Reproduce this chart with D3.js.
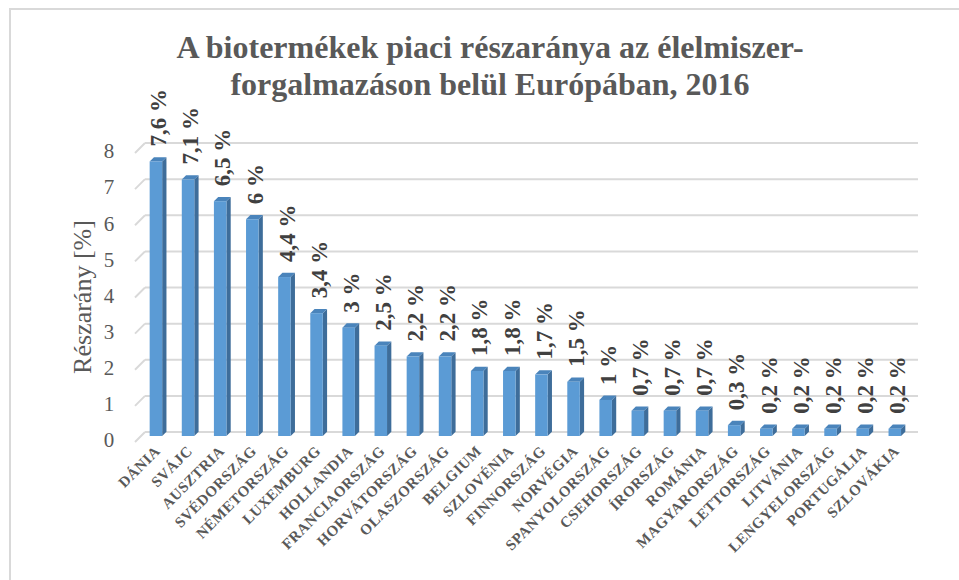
<!DOCTYPE html>
<html>
<head>
<meta charset="utf-8">
<script src="https://cdn.jsdelivr.net/npm/d3@7"></script>
<style>
  body { margin: 0; background: #fff; }
</style>
</head>
<body>
<script>
// chart data
var countries = ["DÁNIA", "SVÁJC", "AUSZTRIA", "SVÉDORSZÁG", "NÉMETORSZÁG", "LUXEMBURG",
  "HOLLANDIA", "FRANCIAORSZÁG", "HORVÁTORSZÁG", "OLASZORSZÁG", "BELGIUM", "SZLOVÉNIA",
  "FINNORSZÁG", "NORVÉGIA", "SPANYOLORSZÁG", "CSEHORSZÁG", "ÍRORSZÁG", "ROMÁNIA",
  "MAGYARORSZÁG", "LETTORSZÁG", "LITVÁNIA", "LENGYELORSZÁG", "PORTUGÁLIA", "SZLOVÁKIA"];
var shares = [7.6, 7.1, 6.5, 6, 4.4, 3.4, 3, 2.5, 2.2, 2.2, 1.8, 1.8, 1.7, 1.5, 1,
  0.7, 0.7, 0.7, 0.3, 0.2, 0.2, 0.2, 0.2, 0.2];
var yTicks = [0, 1, 2, 3, 4, 5, 6, 7, 8];
var titleLines = ["A biotermékek piaci részaránya az élelmiszer-",
  "forgalmazáson belül Európában, 2016"];
var yTitle = "Részarány [%]";

var width = 959, height = 580;
var serif = "'Liberation Serif', 'DejaVu Serif', serif";

var svg = d3.select("body").append("svg")
    .attr("width", width)
    .attr("height", height)
    .attr("font-family", serif);

// outer frame (only top and left edges fall inside the picture)
svg.append("rect")
    .attr("x", 10).attr("y", 9)
    .attr("width", 1000).attr("height", 1000)
    .attr("fill", "none")
    .attr("stroke", "#d9d9d9")
    .attr("stroke-width", 2);

// scales
var x = d3.scaleBand().domain(countries).range([142, 913]).padding(0);
var y = d3.scaleLinear().domain([0, 8]).range([432, 143]); // back wall
var depth = 4.3, barW = 12.5, shift = 4; // 3d offsets

// gridlines + little floor stubs
svg.append("g").selectAll("line.grid")
    .data(yTicks).enter().append("line")
    .attr("x1", 145).attr("x2", 918)
    .attr("y1", function(d) { return y(d); })
    .attr("y2", function(d) { return y(d); })
    .attr("stroke", "#d9d9d9").attr("stroke-width", 2);
svg.append("g").selectAll("line.stub")
    .data(yTicks).enter().append("line")
    .attr("x1", 135).attr("x2", 145)
    .attr("y1", function(d) { return y(d) + 10; })
    .attr("y2", function(d) { return y(d); })
    .attr("stroke", "#d9d9d9").attr("stroke-width", 2);

// y tick labels
svg.append("g").selectAll("text")
    .data(yTicks).enter().append("text")
    .attr("x", 109)
    .attr("y", function(d) { return y(d) + 8; })
    .attr("dy", "0.35em")
    .attr("text-anchor", "middle")
    .style("font-size", "21px")
    .style("fill", "#595959")
    .text(function(d) { return d; });

// y title
svg.append("text")
    .attr("transform", "translate(82,297) rotate(-90)")
    .attr("dy", "0.35em")
    .attr("text-anchor", "middle")
    .style("font-size", "26px")
    .style("fill", "#595959")
    .text(yTitle);

// title
svg.append("g").selectAll("text")
    .data(titleLines).enter().append("text")
    .attr("x", 490)
    .attr("y", function(d, i) { return 58 + i * 37; })
    .attr("text-anchor", "middle")
    .style("font-size", "32px")
    .style("font-weight", "bold")
    .style("fill", "#595959")
    .text(function(d) { return d; });

// bars
var data = countries.map(function(c, i) { return {name: c, value: shares[i]}; });
var bars = svg.append("g").selectAll("g.bar")
    .data(data).enter().append("g").attr("class", "bar");

function barLeft(d) { return x(d.name) + x.bandwidth() / 2 - (barW + depth) / 2; }
function barTop(d) { return y(d.value) + shift; }
var base = y(0) + shift;

bars.append("path") // right side
    .attr("d", function(d) {
      var l = barLeft(d) + barW, t = barTop(d);
      return "M" + l + "," + t + "L" + (l + depth) + "," + (t - depth) +
        "L" + (l + depth) + "," + (base - depth) + "L" + l + "," + base + "Z";
    })
    .attr("fill", "#3e6d9a");
bars.append("path") // top
    .attr("d", function(d) {
      var l = barLeft(d), t = barTop(d);
      return "M" + l + "," + t + "L" + (l + barW) + "," + t +
        "L" + (l + barW + depth) + "," + (t - depth) + "L" + (l + depth) + "," + (t - depth) + "Z";
    })
    .attr("fill", "#4a84bb");
bars.append("rect") // front
    .attr("x", barLeft)
    .attr("y", barTop)
    .attr("width", barW)
    .attr("height", function(d) { return base - barTop(d); })
    .attr("fill", "#5b9bd5");

// value labels
bars.append("text")
    .attr("transform", function(d) {
      return "translate(" + (x(d.name) + x.bandwidth() / 2) + "," + (barTop(d) - 15) + ") rotate(-90)";
    })
    .attr("dy", "0.35em")
    .style("font-size", "23px")
    .style("font-weight", "bold")
    .style("fill", "#404040")
    .text(function(d) { return String(d.value).replace(".", ",") + " %"; });

// category labels
svg.append("g").selectAll("text")
    .data(countries).enter().append("text")
    .attr("transform", function(d) {
      return "translate(" + (x(d) + x.bandwidth() / 2 + 3) + ",452) rotate(-45)";
    })
    .attr("text-anchor", "end")
    .style("font-size", "15px")
    .style("font-weight", "bold")
    .style("letter-spacing", "0.5px")
    .style("fill", "#595959")
    .text(function(d) { return d; });
</script>
</body>
</html>
